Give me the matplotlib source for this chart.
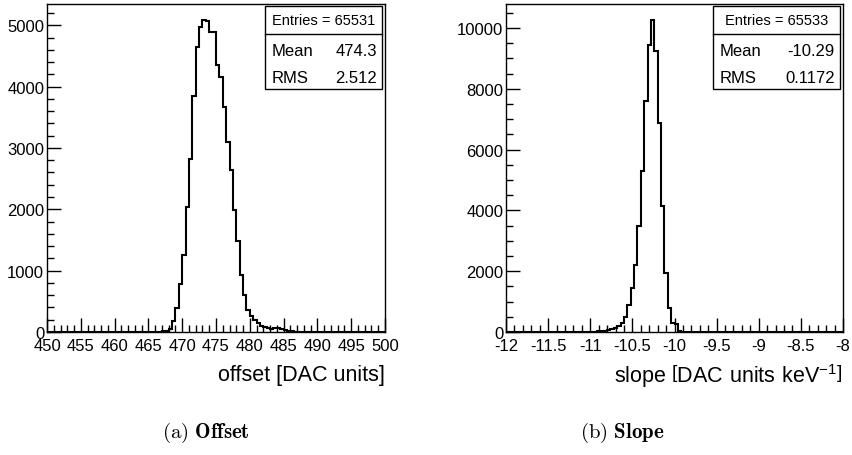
import numpy as np
import matplotlib
matplotlib.use("Agg")
import matplotlib.pyplot as plt
from matplotlib.patches import Rectangle
from matplotlib.ticker import MultipleLocator, FuncFormatter

plt.rcParams['font.family'] = ['Liberation Sans', 'DejaVu Sans']
plt.rcParams['mathtext.fontset'] = 'custom'
plt.rcParams['mathtext.rm'] = 'Liberation Sans'
plt.rcParams['axes.unicode_minus'] = False

# offset histogram: 100 bins from 450 to 500
offset_range = (450.0, 500.0)
offset_counts = [
    0, 0, 0, 0, 0, 0, 0, 0, 0, 0,
    0, 0, 0, 0, 0, 0, 0, 0, 0, 0,
    0, 0, 1, 0, 1, 1, 0, 1, 1, 2,
    2, 3, 5, 8, 12, 20, 42, 183, 395, 781,
    1263, 2030, 2828, 3850, 4650, 4972, 5092, 5070, 4891, 4885,
    4357, 4153, 3670, 3105, 2635, 1985, 1476, 932, 600, 365,
    265, 195, 140, 98, 76, 60, 54, 60, 65, 54,
    33, 16, 10, 6, 4, 3, 2, 1, 1, 0,
    1, 0, 0, 0, 0, 0, 0, 0, 0, 0,
    0, 0, 0, 0, 0, 0, 0, 0, 0, 0,
]
offset_stats = ("Entries = 65531", "474.3", "2.512")

# slope histogram: 100 bins from -12 to -8
slope_range = (-12.0, -8.0)
slope_counts = [
    0, 0, 0, 0, 0, 0, 0, 0, 0, 0,
    0, 0, 0, 0, 0, 0, 0, 0, 0, 0,
    1, 1, 2, 3, 5, 8, 12, 18, 28, 40,
    62, 88, 125, 198, 308, 495, 890, 1451, 2209, 3495,
    5286, 7583, 9430, 10276, 9243, 6869, 4154, 1956, 780, 308,
    253, 30, 8, 3, 1, 0, 0, 0, 0, 0,
    0, 0, 0, 0, 0, 0, 0, 0, 0, 0,
    0, 0, 0, 0, 0, 0, 0, 0, 0, 0,
    0, 0, 0, 0, 0, 0, 0, 0, 0, 0,
    0, 0, 0, 0, 0, 0, 0, 0, 0, 0,
]
slope_stats = ("Entries = 65533", "-10.29", "0.1172")


def draw_hist(ax, counts, xrange, stats, box_x0, xmajor, xminor, ymajor, yminor, xlabel):
    counts = np.array(counts, dtype=float)
    edges = np.linspace(xrange[0], xrange[1], len(counts) + 1)
    ax.stairs(counts, edges, color='black', linewidth=1.5, baseline=0)

    ax.set_xlim(*xrange)
    ax.set_ylim(0, counts.max() * 1.05)

    # ROOT style ticks: inside, left and bottom only
    ax.xaxis.set_major_locator(MultipleLocator(xmajor))
    ax.xaxis.set_minor_locator(MultipleLocator(xminor))
    ax.yaxis.set_major_locator(MultipleLocator(ymajor))
    ax.yaxis.set_minor_locator(MultipleLocator(yminor))
    ax.xaxis.set_major_formatter(FuncFormatter(lambda v, p: "%g" % round(v, 3)))
    ax.yaxis.set_major_formatter(FuncFormatter(lambda v, p: "%d" % v))
    ax.tick_params(which='both', direction='in', top=False, right=False,
                   width=1, labelsize=12)
    ax.tick_params(axis='x', pad=4)
    ax.tick_params(axis='y', pad=2)
    ax.tick_params(which='major', length=10)
    ax.tick_params(which='minor', length=5)
    for s in ax.spines.values():
        s.set_linewidth(1)

    ax.set_xlabel(xlabel, fontsize=15.5, ha='right', va='center')
    ax.xaxis.set_label_coords(1.0, -0.131)

    # statistics box
    x1 = 0.991
    y0, ydiv, y1 = 0.741, 0.909, 0.994
    ax.add_patch(Rectangle((box_x0, y0), x1 - box_x0, y1 - y0, transform=ax.transAxes,
                           facecolor='white', edgecolor='black', linewidth=1,
                           zorder=5, clip_on=False))
    ax.plot([box_x0, x1], [ydiv, ydiv], transform=ax.transAxes, color='black',
            linewidth=1, zorder=6, clip_on=False)
    ax.text((box_x0 + x1) / 2, (ydiv + y1) / 2, stats[0], transform=ax.transAxes,
            ha='center', va='center', fontsize=10.5, zorder=7)
    xl = box_x0 + 0.02
    xr = x1 - 0.015
    ax.text(xl, 0.857, "Mean", transform=ax.transAxes, ha='left', va='center',
            fontsize=12, zorder=7)
    ax.text(xr, 0.857, stats[1], transform=ax.transAxes, ha='right', va='center',
            fontsize=12, zorder=7)
    ax.text(xl, 0.776, "RMS", transform=ax.transAxes, ha='left', va='center',
            fontsize=12, zorder=7)
    ax.text(xr, 0.776, stats[2], transform=ax.transAxes, ha='right', va='center',
            fontsize=12, zorder=7)


fig = plt.figure(figsize=(8.52, 4.56), dpi=100)
ax1 = fig.add_axes([47 / 852, 123 / 456, 338 / 852, 328 / 456])
ax2 = fig.add_axes([506 / 852, 123 / 456, 337 / 852, 328 / 456])

draw_hist(ax1, offset_counts, offset_range, offset_stats, 0.645,
          5, 1, 1000, 200, "offset [DAC units]")
draw_hist(ax2, slope_counts, slope_range, slope_stats, 0.614,
          0.5, 0.1, 2000, 500, r"slope $\left[\mathrm{DAC\ units\ keV^{-1}}\right]$")

# sub-figure captions
fig.text(206 / 852, 1 - 433 / 456, r"$\mathrm{(a)}\ \mathbf{Offset}$", ha='center', va='center',
         fontsize=15, math_fontfamily='cm')
fig.text(622 / 852, 1 - 433 / 456, r"$\mathrm{(b)}\ \mathbf{Slope}$", ha='center', va='center',
         fontsize=15, math_fontfamily='cm')

fig.savefig("out.png", dpi=100)
